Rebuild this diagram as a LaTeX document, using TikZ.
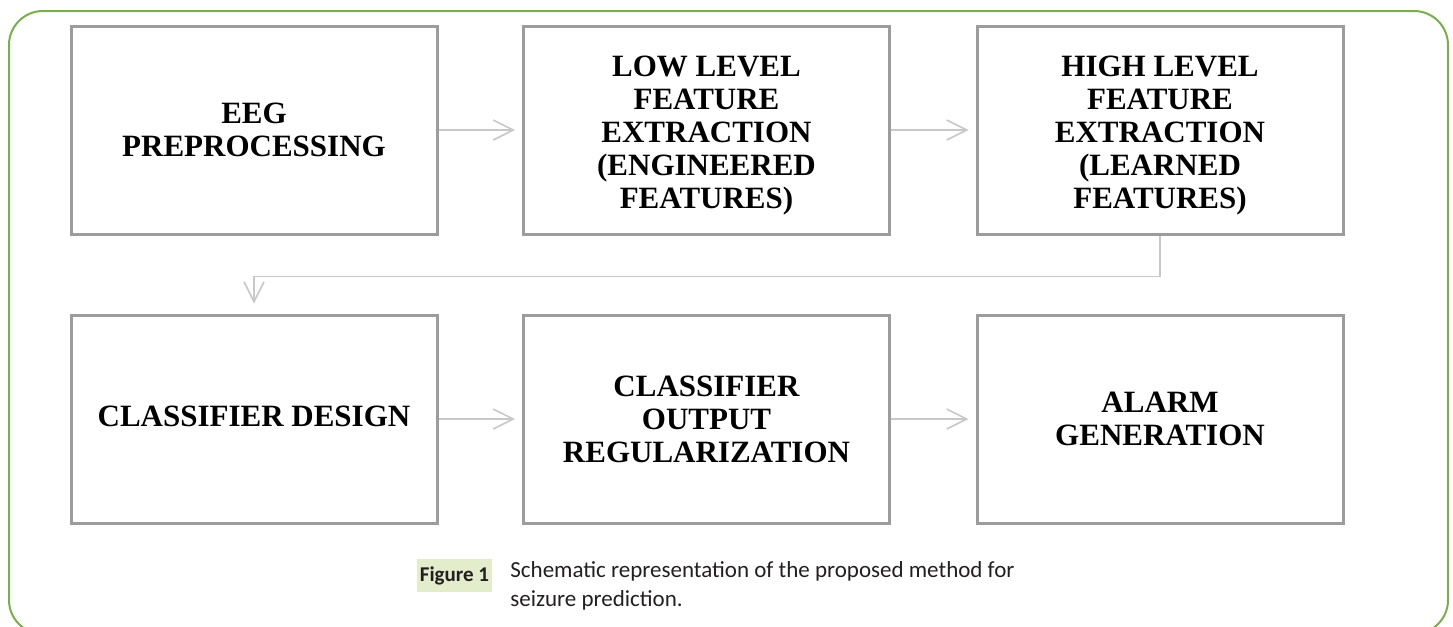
\documentclass[tikz,border=0pt]{standalone}
\usepackage{fontspec}
\setmainfont{Liberation Serif}
\newfontfamily\capfont{Carlito}
\usetikzlibrary{arrows.meta, positioning, calc}

\definecolor{framegreen}{HTML}{7AAD4C}
\definecolor{boxgray}{HTML}{9C9C9C}
\definecolor{arrowgray}{HTML}{C8C8C8}
\definecolor{taggreen}{HTML}{E3ECCB}
\definecolor{captext}{HTML}{231F20}

\begin{document}
\begin{tikzpicture}[
    x=0.5pt, y=-0.5pt,
    stage/.style={draw=boxgray, line width=1.5pt, minimum width=183pt, minimum height=104pt},
    stagelabel/.style={align=center, inner sep=0pt, font=\fontsize{15.5}{16.5}\selectfont\bfseries},
    flow/.style={draw=arrowgray, line width=0.8pt, -{Straight Barb[length=10pt, width=10pt]}, shorten >=3.5pt},
    figtag/.style={fill=taggreen, minimum width=37.5pt, minimum height=16.5pt, inner sep=0pt,
        text=captext, font=\capfont\fontsize{10.5}{12}\selectfont\bfseries},
    captiontext/.style={text=captext, align=left, inner sep=0pt,
        font=\capfont\fontsize{11.5}{14.5}\selectfont}
]
\useasboundingbox (0,0) rectangle (1453,627);

% column and row centres (pixels)
\pgfmathsetmacro{\colA}{254}
\pgfmathsetmacro{\colB}{706.5}
\pgfmathsetmacro{\colC}{1160}
\pgfmathsetmacro{\rowA}{130}
\pgfmathsetmacro{\rowB}{419}

% outer frame
\draw[framegreen, line width=1pt, rounded corners=17pt] (9,11) rectangle (1448,634);

% first row
\node[stage] (s1) at (\colA, \rowA) {};
\node[stagelabel] (t1) at (s1.center) {EEG\\PREPROCESSING};
\node[stage] (s2) at (\colB, \rowA) {};
\node[stagelabel] (t2) at ([yshift=-3pt]s2.center) {LOW LEVEL\\FEATURE\\EXTRACTION\\(ENGINEERED\\FEATURES)};
\node[stage] (s3) at (\colC, \rowA) {};
\node[stagelabel] (t3) at ([yshift=-3pt]s3.center) {HIGH LEVEL\\FEATURE\\EXTRACTION\\(LEARNED\\FEATURES)};

% second row
\node[stage] (s4) at (\colA, \rowB) {};
\node[stagelabel] (t4) at ([yshift=1.5pt]s4.center) {CLASSIFIER DESIGN};
\node[stage] (s5) at (\colB, \rowB) {};
\node[stagelabel] (t5) at (s5.center) {CLASSIFIER\\OUTPUT\\REGULARIZATION};
\node[stage] (s6) at (\colC, \rowB) {};
\node[stagelabel] (t6) at (s6.center) {ALARM\\GENERATION};

% connectors
\draw[flow] (s1) -- (s2);
\draw[flow] (s2) -- (s3);
\draw[flow, shorten >=5pt] (s3.south) -- ++(0,41) -| (s4.north);
\draw[flow] (s4) -- (s5);
\draw[flow] (s5) -- (s6);

% caption
\node[figtag] (tag) at (454.5, 575.5) {Figure 1};
\node[captiontext, anchor=north west] (cap) at (510, 561)
    {Schematic representation of the proposed method for\\seizure prediction.};
\end{tikzpicture}
\end{document}
